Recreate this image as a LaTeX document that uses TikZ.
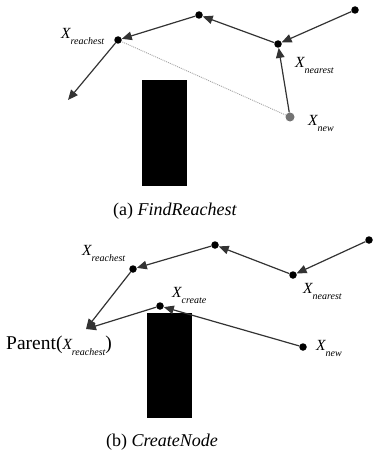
\documentclass[tikz,border=0pt]{standalone}
\usepackage{fontspec}
\setmainfont{Liberation Serif}
\usetikzlibrary{arrows.meta}
\newcommand{\xsub}[1]{{\fontsize{15.5}{15.5}\selectfont\itshape X}\raisebox{-6.5pt}{\fontsize{10}{10}\selectfont\itshape #1}}
\begin{document}
\begin{tikzpicture}[x=1pt,y=-1pt,
  dotn/.style={circle,fill=black,inner sep=0pt,minimum size=7.5pt},
  newn/.style={circle,fill=black!55,inner sep=0pt,minimum size=9pt},
  edgearr/.style={draw=black!80,line width=1.2pt,-{Triangle[length=10pt,width=8.5pt]}},
  dotline/.style={draw=gray!70,line width=0.9pt,dash pattern=on 1pt off 1pt},
  lbl/.style={inner sep=0pt,anchor=base west},
  captext/.style={inner sep=0pt,font=\fontsize{18}{18}\selectfont},
  obst/.style={fill=black}]
\useasboundingbox (0,0) rectangle (372,452);
% ---------- panel (a) ----------
\fill[obst] (142,80) rectangle (187,186);
\node[dotn] (aA) at (355,10) {};
\node[dotn] (aN) at (278,44) {};
\node[dotn] (aB) at (199,15) {};
\node[dotn] (aR) at (118,40) {};
\coordinate (aT) at (68,100);
\node[newn] (aX) at (290,117) {};
\draw[dotline] (aX) -- (aR);
\draw[edgearr] (aA) -- (aN);
\draw[edgearr] (aX) -- (aN);
\draw[edgearr] (aN) -- (aB);
\draw[edgearr] (aB) -- (aR);
\draw[edgearr] (aR) -- (aT);
\node[lbl] (laR) at (61,38) {\xsub{reachest}};
\node[lbl] (laN) at (295,67) {\xsub{nearest}};
\node[lbl] (laX) at (308,125) {\xsub{new}};
\node[captext] (capa) at (175,211) {(a) \textit{FindReachest}};
% ---------- panel (b) ----------
\fill[obst] (147,313) rectangle (192,418);
\node[dotn] (bA) at (369,240) {};
\node[dotn] (bN) at (293,275) {};
\node[dotn] (bB) at (215,245) {};
\node[dotn] (bR) at (133,269) {};
\node[dotn] (bC) at (160,306) {};
\node[dotn] (bX) at (303,347) {};
\coordinate (bP) at (86,329);
\draw[edgearr] (bA) -- (bN);
\draw[edgearr] (bN) -- (bB);
\draw[edgearr] (bB) -- (bR);
\draw[edgearr] (bR) -- (bP);
\draw[edgearr] (bC) -- (bP);
\draw[edgearr] (bX) -- (bC);
\node[lbl] (lbR) at (82,255) {\xsub{reachest}};
\node[lbl] (lbC) at (172,297) {\xsub{create}};
\node[lbl] (lbN) at (303,293) {\xsub{nearest}};
\node[lbl] (lbX) at (316,350) {\xsub{new}};
\node[lbl] (lbP) at (6,349) {{\fontsize{19.5}{19.5}\selectfont Parent(}\xsub{reachest}{\fontsize{19.5}{19.5}\selectfont)}};
\node[captext] (capb) at (162,442) {(b) \textit{CreateNode}};
\end{tikzpicture}
\end{document}
